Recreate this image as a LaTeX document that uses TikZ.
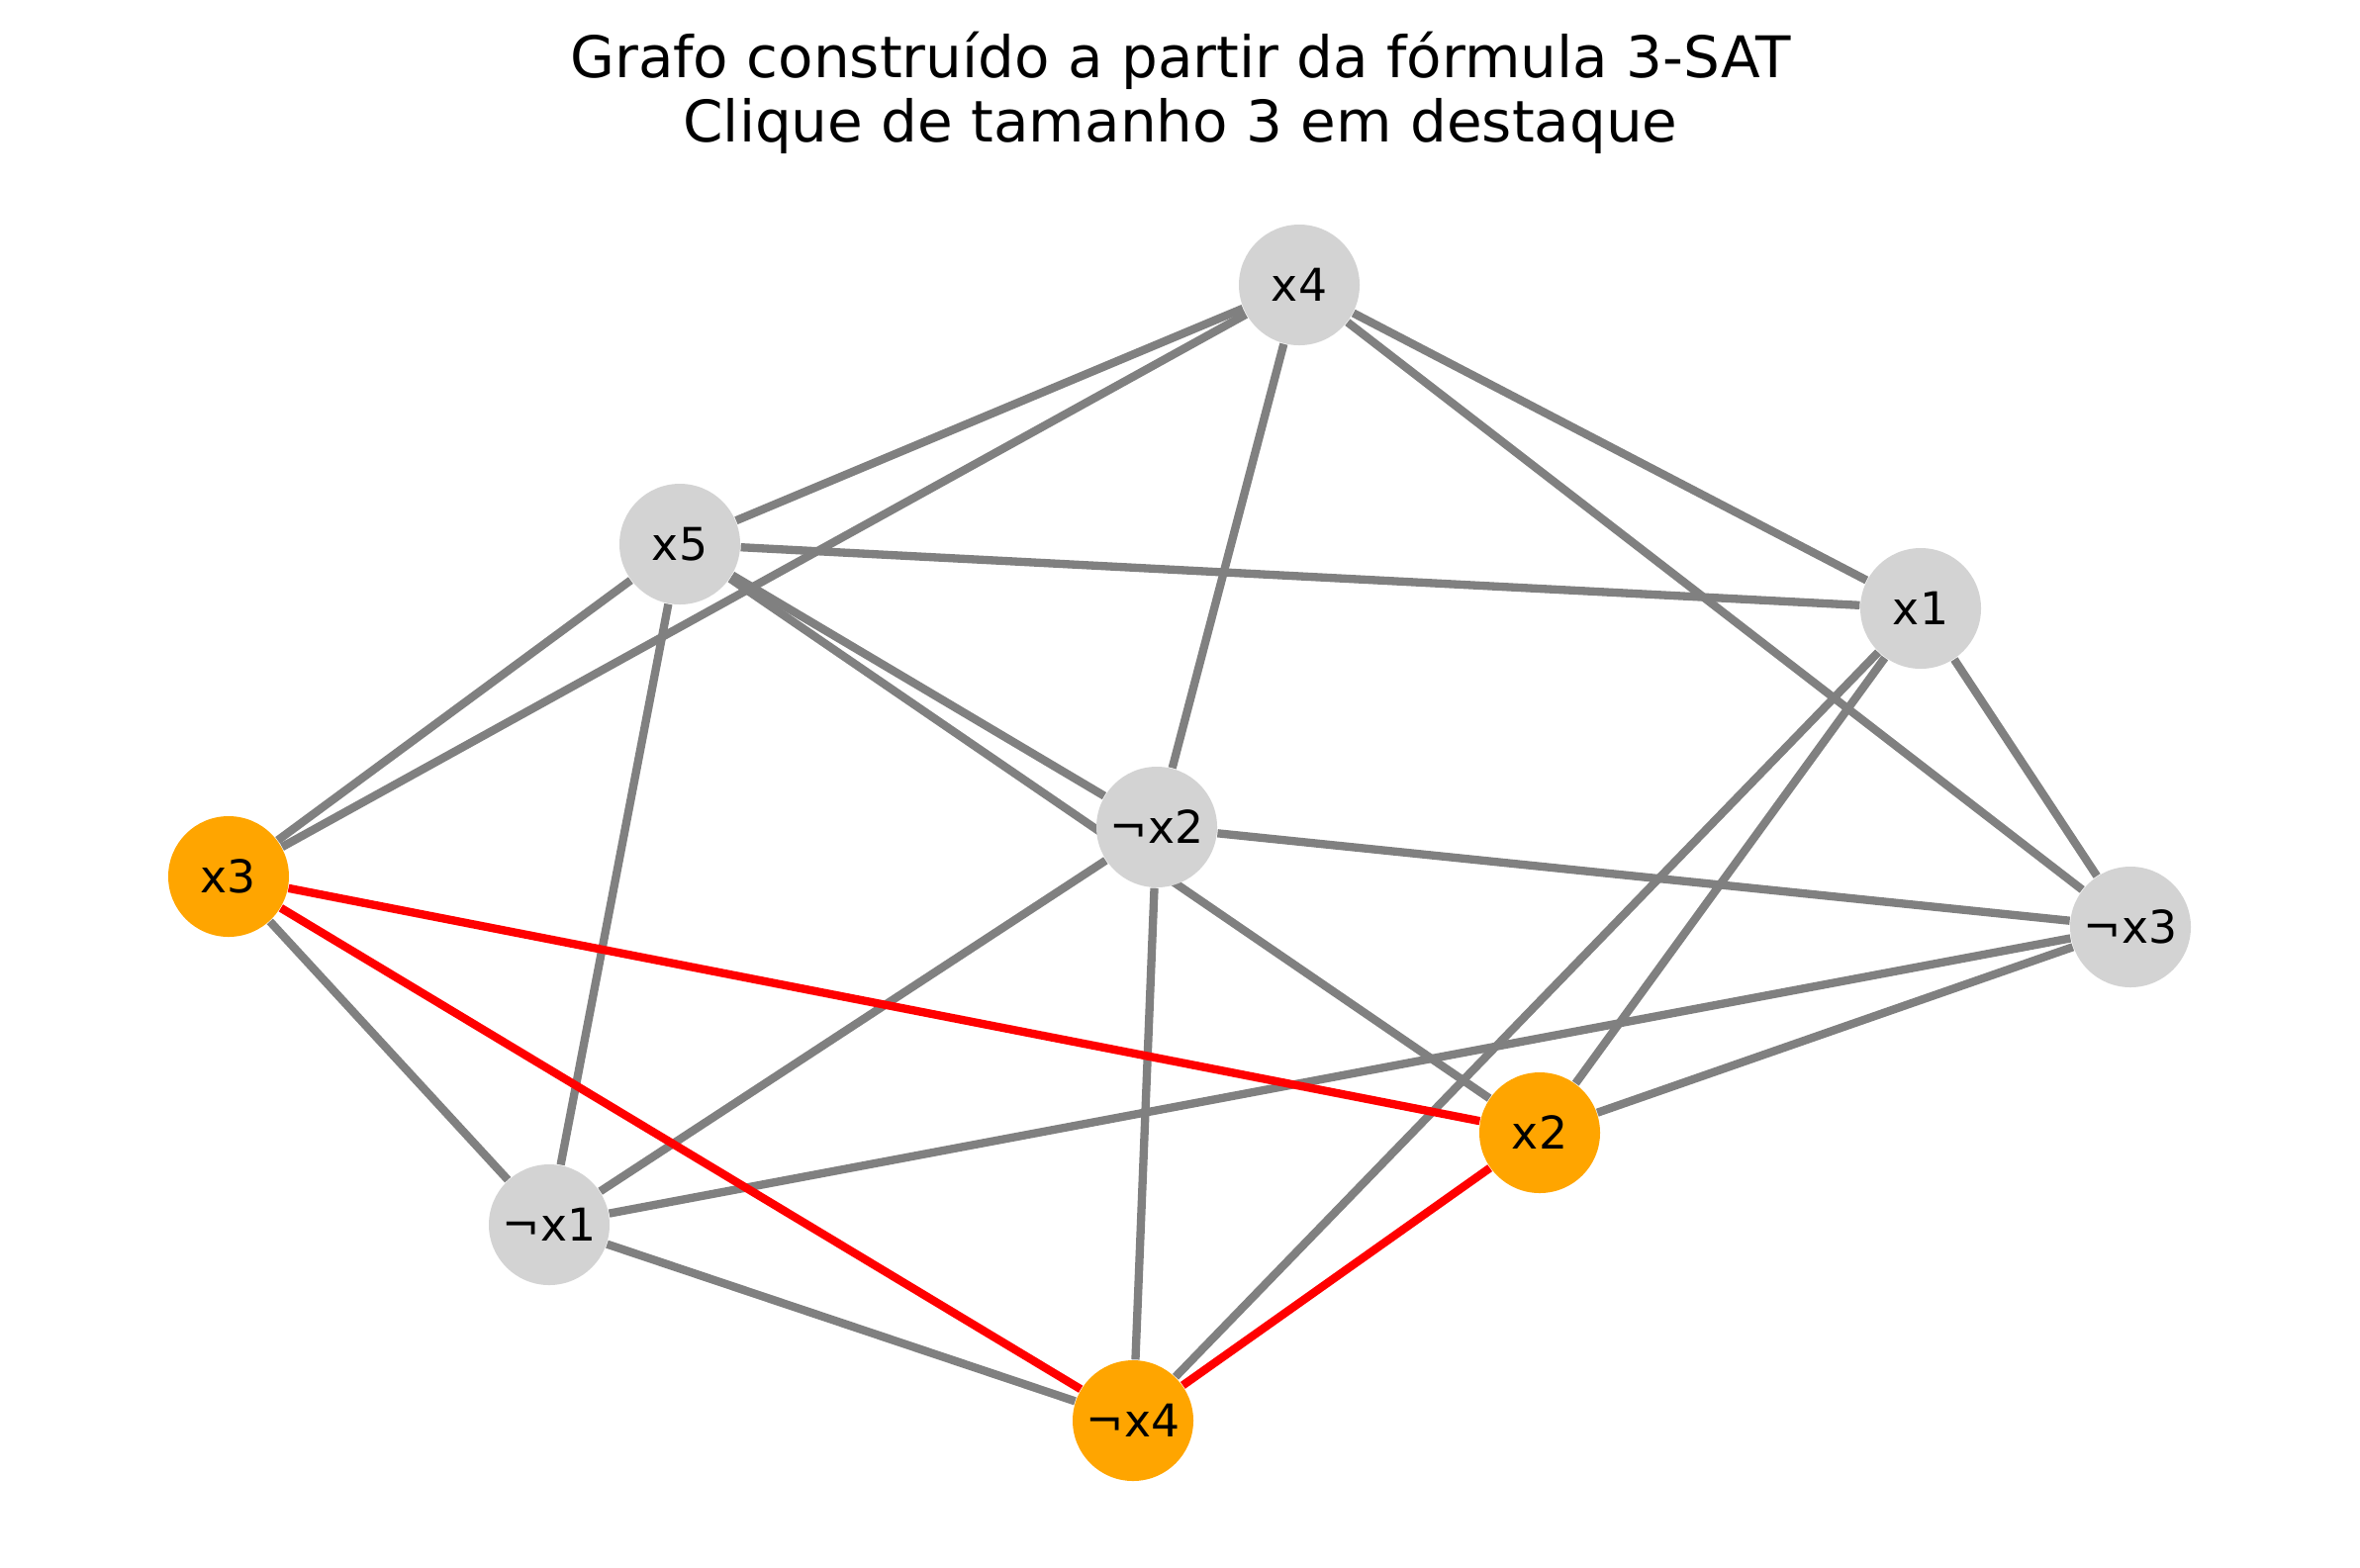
\documentclass[tikz,border=0pt]{standalone}
\usepackage{fontspec}
\setmainfont{DejaVu Sans}
\usetikzlibrary{backgrounds}
\definecolor{nodegray}{RGB}{211,211,211}
\definecolor{hlorange}{RGB}{255,165,0}
\tikzset{
    vertex/.style={circle, fill=nodegray, minimum size=1.22cm, inner sep=0pt, font=\fontsize{13}{15}\selectfont},
    picked/.style={vertex, fill=hlorange},
    edge/.style={gray, line width=2.37pt},
    cliqueedge/.style={red, line width=2.37pt},
    titletext/.style={anchor=base, inner sep=0pt, font=\fontsize{16.5}{18.5}\selectfont}
}
\begin{document}
\begin{tikzpicture}
    \useasboundingbox (0,0) rectangle (23.85,-15.84); % page size
    \node[titletext] (title1) at (11.93,-0.78) {Grafo construído a partir da fórmula 3-SAT};
    \node[titletext] (title2) at (11.93,-1.43) {Clique de tamanho 3 em destaque};
    % vertices
    \node[vertex] (x4) at (13.13,-2.88) {x4};
    \node[vertex] (x5) at (6.87,-5.50) {x5};
    \node[vertex] (x1) at (19.41,-6.15) {x1};
    \node[vertex] (nx2) at (11.69,-8.36) {¬x2};
    \node[picked] (x3) at (2.31,-8.86) {x3};
    \node[vertex] (nx3) at (21.53,-9.37) {¬x3};
    \node[picked] (x2) at (15.56,-11.45) {x2};
    \node[vertex] (nx1) at (5.55,-12.38) {¬x1};
    \node[picked] (nx4) at (11.45,-14.36) {¬x4};
    \begin{pgfonlayer}{background}
        \foreach \a/\b in {x4/x5, x4/x3, x4/nx2, x4/x1, x4/nx3, x5/x1, x5/nx2, x5/x2, x5/x3, x5/nx1,
                           x1/nx3, x1/x2, x1/nx4, nx2/nx3, nx2/nx1, nx2/nx4, x3/nx1, nx3/nx1, nx3/x2, nx1/nx4}
            \draw[edge] (\a) -- (\b);
        \foreach \a/\b in {x3/x2, x3/nx4, x2/nx4}
            \draw[cliqueedge] (\a) -- (\b); % clique
    \end{pgfonlayer}
\end{tikzpicture}
\end{document}
